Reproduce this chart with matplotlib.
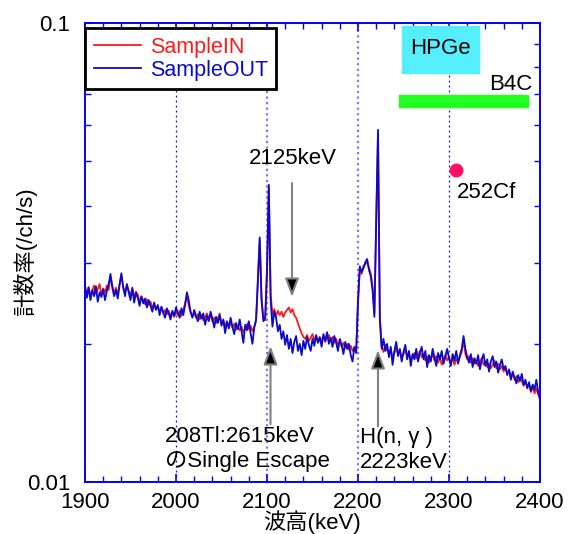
import numpy as np
import matplotlib
matplotlib.use("Agg")
from matplotlib import pyplot as plt, patches as pt
from matplotlib.ticker import MultipleLocator, LogLocator, NullFormatter, FixedLocator, FixedFormatter

plt.rcParams['font.family'] = ['Liberation Sans', 'Noto Sans CJK JP', 'DejaVu Sans']

# channel energies (keV), 2 keV bins
energy = np.arange(1900, 2401, 2)

# count rate (/ch/s), one row = 20 keV
sample_out = [
    0.0269, 0.0252, 0.0265, 0.0249, 0.0262, 0.0254, 0.0267, 0.0247, 0.0259, 0.0253,
    0.0263, 0.0249, 0.0261, 0.0270, 0.0284, 0.0265, 0.0254, 0.0262, 0.0251, 0.0269,
    0.0285, 0.0265, 0.0254, 0.0270, 0.0259, 0.0249, 0.0265, 0.0246, 0.0258, 0.0252,
    0.0242, 0.0254, 0.0245, 0.0251, 0.0240, 0.0249, 0.0242, 0.0235, 0.0246, 0.0237,
    0.0243, 0.0231, 0.0241, 0.0234, 0.0228, 0.0239, 0.0233, 0.0226, 0.0236, 0.0230,
    0.0240, 0.0234, 0.0228, 0.0239, 0.0231, 0.0243, 0.0259, 0.0249, 0.0235, 0.0228,
    0.0237, 0.0230, 0.0224, 0.0235, 0.0227, 0.0233, 0.0220, 0.0230, 0.0224, 0.0235,
    0.0227, 0.0217, 0.0229, 0.0222, 0.0231, 0.0219, 0.0226, 0.0211, 0.0224, 0.0216,
    0.0228, 0.0218, 0.0210, 0.0222, 0.0215, 0.0226, 0.0213, 0.0201, 0.0220, 0.0214,
    0.0224, 0.0211, 0.0200, 0.0217, 0.0226, 0.0276, 0.0341, 0.0249, 0.0224, 0.0228,
    0.0290, 0.0444, 0.0249, 0.0218, 0.0235, 0.0228, 0.0213, 0.0220, 0.0205, 0.0213,
    0.0199, 0.0209, 0.0195, 0.0205, 0.0191, 0.0202, 0.0208, 0.0193, 0.0200, 0.0189,
    0.0203, 0.0195, 0.0207, 0.0199, 0.0193, 0.0205, 0.0198, 0.0209, 0.0201, 0.0207,
    0.0197, 0.0210, 0.0203, 0.0212, 0.0200, 0.0206, 0.0197, 0.0208, 0.0201, 0.0193,
    0.0205, 0.0199, 0.0190, 0.0202, 0.0195, 0.0200, 0.0189, 0.0183, 0.0197, 0.0191,
    0.0249, 0.0295, 0.0287, 0.0292, 0.0301, 0.0306, 0.0290, 0.0281, 0.0262, 0.0229,
    0.0372, 0.0585, 0.0226, 0.0195, 0.0205, 0.0193, 0.0200, 0.0187, 0.0197, 0.0180,
    0.0193, 0.0202, 0.0188, 0.0195, 0.0183, 0.0192, 0.0199, 0.0185, 0.0193, 0.0179,
    0.0190, 0.0185, 0.0195, 0.0183, 0.0191, 0.0197, 0.0185, 0.0193, 0.0178, 0.0189,
    0.0183, 0.0195, 0.0187, 0.0179, 0.0191, 0.0185, 0.0193, 0.0181, 0.0188, 0.0195,
    0.0186, 0.0179, 0.0190, 0.0184, 0.0193, 0.0181, 0.0189, 0.0195, 0.0208, 0.0195,
    0.0187, 0.0182, 0.0190, 0.0178, 0.0186, 0.0181, 0.0189, 0.0176, 0.0185, 0.0190,
    0.0179, 0.0185, 0.0174, 0.0183, 0.0188, 0.0178, 0.0183, 0.0173, 0.0180, 0.0185,
    0.0176, 0.0179, 0.0171, 0.0176, 0.0167, 0.0174, 0.0169, 0.0164, 0.0171, 0.0166,
    0.0172, 0.0163, 0.0167, 0.0160, 0.0165, 0.0158, 0.0163, 0.0159, 0.0167, 0.0157,
    0.0153,
]

sample_in = [
    0.0262, 0.0258, 0.0266, 0.0255, 0.0261, 0.0268, 0.0257, 0.0263, 0.0270, 0.0256,
    0.0264, 0.0259, 0.0268, 0.0262, 0.0280, 0.0268, 0.0258, 0.0265, 0.0256, 0.0270,
    0.0282, 0.0266, 0.0259, 0.0268, 0.0261, 0.0255, 0.0264, 0.0252, 0.0260, 0.0256,
    0.0247, 0.0253, 0.0249, 0.0244, 0.0250, 0.0243, 0.0247, 0.0240, 0.0244, 0.0238,
    0.0241, 0.0236, 0.0240, 0.0233, 0.0237, 0.0232, 0.0236, 0.0230, 0.0234, 0.0229,
    0.0235, 0.0231, 0.0236, 0.0230, 0.0237, 0.0245, 0.0255, 0.0242, 0.0234, 0.0230,
    0.0233, 0.0228, 0.0232, 0.0226, 0.0231, 0.0225, 0.0229, 0.0233, 0.0227, 0.0230,
    0.0224, 0.0228, 0.0222, 0.0227, 0.0233, 0.0221, 0.0225, 0.0219, 0.0223, 0.0218,
    0.0222, 0.0217, 0.0221, 0.0215, 0.0219, 0.0214, 0.0218, 0.0212, 0.0216, 0.0221,
    0.0215, 0.0219, 0.0213, 0.0218, 0.0224, 0.0272, 0.0336, 0.0252, 0.0228, 0.0225,
    0.0285, 0.0438, 0.0256, 0.0232, 0.0238, 0.0230, 0.0236, 0.0231, 0.0235, 0.0229,
    0.0234, 0.0237, 0.0240, 0.0234, 0.0238, 0.0231, 0.0228, 0.0222, 0.0216, 0.0211,
    0.0207, 0.0205, 0.0209, 0.0203, 0.0206, 0.0210, 0.0204, 0.0208, 0.0202, 0.0206,
    0.0203, 0.0208, 0.0202, 0.0206, 0.0209, 0.0203, 0.0207, 0.0201, 0.0205, 0.0199,
    0.0203, 0.0197, 0.0201, 0.0196, 0.0200, 0.0194, 0.0198, 0.0193, 0.0196, 0.0194,
    0.0245, 0.0290, 0.0284, 0.0296, 0.0298, 0.0303, 0.0293, 0.0285, 0.0267, 0.0233,
    0.0365, 0.0575, 0.0230, 0.0198, 0.0192, 0.0199, 0.0194, 0.0190, 0.0194, 0.0187,
    0.0191, 0.0196, 0.0190, 0.0193, 0.0187, 0.0190, 0.0194, 0.0188, 0.0191, 0.0185,
    0.0188, 0.0191, 0.0186, 0.0189, 0.0193, 0.0187, 0.0190, 0.0184, 0.0188, 0.0182,
    0.0186, 0.0190, 0.0184, 0.0188, 0.0182, 0.0187, 0.0180, 0.0185, 0.0189, 0.0184,
    0.0187, 0.0182, 0.0186, 0.0180, 0.0185, 0.0183, 0.0187, 0.0192, 0.0204, 0.0190,
    0.0185, 0.0188, 0.0182, 0.0186, 0.0181, 0.0184, 0.0179, 0.0183, 0.0186, 0.0180,
    0.0183, 0.0178, 0.0181, 0.0177, 0.0180, 0.0184, 0.0177, 0.0181, 0.0176, 0.0179,
    0.0174, 0.0177, 0.0172, 0.0175, 0.0169, 0.0172, 0.0167, 0.0170, 0.0165, 0.0168,
    0.0166, 0.0162, 0.0165, 0.0161, 0.0163, 0.0157, 0.0161, 0.0156, 0.0160, 0.0155,
    0.0151,
]

x_ticks = [1900, 2000, 2100, 2200, 2300, 2400]
y_ticks = [0.01, 0.1]
y_tick_labels = ['0.01', '0.1']
grid_dark = [2000, 2300]
grid_light = [2100, 2200]

fig = plt.figure(figsize=(5.71, 5.34), dpi=100)
ax = fig.add_axes([85 / 571, 52 / 534, 455 / 571, 459 / 534])

ax.plot(energy, sample_in, color='#ff1a1a', lw=1.3, label='SampleIN')
ax.plot(energy, sample_out, color='#0a0acc', lw=1.3, label='SampleOUT')

for g in grid_dark:
    ax.axvline(g, color='#1010cc', lw=0.9, ls=(0, (1.5, 2.5)), zorder=0)
for g in grid_light:
    ax.axvline(g, color='#7a7aff', lw=1.6, ls=(0, (1, 1.5)), zorder=0)

ax.set_yscale('log')
ax.set_xlim(1900, 2400)
ax.set_ylim(0.01, 0.1)
ax.xaxis.set_major_locator(FixedLocator(x_ticks))
ax.xaxis.set_minor_locator(MultipleLocator(20))
ax.yaxis.set_major_locator(FixedLocator(y_ticks))
ax.yaxis.set_major_formatter(FixedFormatter(y_tick_labels))
ax.yaxis.set_minor_locator(LogLocator(base=10, subs=np.arange(2, 10)))
ax.yaxis.set_minor_formatter(NullFormatter())

for s in ax.spines.values():
    s.set_color('#0000ff')
    s.set_linewidth(1.4)
ax.tick_params(which='both', direction='in', top=True, right=True, color='#0000ff',
               labelcolor='black', labelsize=16)
ax.tick_params(which='major', length=6, width=1.2)
ax.tick_params(which='minor', length=4, width=1.0)
ax.tick_params(axis='x', pad=7)
ax.tick_params(axis='y', pad=10.5)
for lab in ax.get_yticklabels():
    lab.set_va('center_baseline')

fig.text(25 / 571, 1 - 252 / 534, '計数率(/ch/s)', rotation=90, ha='center', va='center', fontsize=16)
fig.text(312 / 571, 1 - 522 / 534, '波高(keV)', ha='center', va='center', fontsize=16)

leg = ax.legend(loc='upper left', bbox_to_anchor=(0.0, 0.989), borderaxespad=0, fontsize=15.5,
                fancybox=False, framealpha=1, edgecolor='black', handlelength=2.2,
                handletextpad=0.4, labelspacing=0.1, borderpad=0.4)
leg.get_frame().set_linewidth(2)
for txt, col in zip(leg.get_texts(), ['#ff1a1a', '#0a0acc']):
    txt.set_color(col)


def fx(px):
    return (px - 85) / 455


def fy(py):
    return (482 - py) / 459


tr = ax.transAxes
ax.add_patch(pt.Rectangle((fx(402), fy(73)), fx(479) - fx(402), fy(26) - fy(73),
                          transform=tr, color='#55eefc', zorder=3, clip_on=False))
ax.text(fx(440.5), fy(49), 'HPGe', transform=tr, ha='center', va='center', fontsize=16, zorder=4)
ax.add_patch(pt.Rectangle((fx(399), fy(107)), fx(528) - fx(399), fy(95) - fy(107),
                          transform=tr, color='#22ff22', zorder=3))
ax.text(fx(532), fy(85), 'B4C', transform=tr, ha='right', va='center', fontsize=16)
ax.plot([fx(456)], [fy(170)], 'o', transform=tr, color='#ff1060', markersize=9)
ax.text(fx(457), fy(193), '252Cf', transform=tr, ha='left', va='center', fontsize=16)

ax.text(fx(249), fy(158), '2125keV', transform=tr, ha='left', va='center', fontsize=16)
arrow = dict(arrowstyle='-|>,head_length=0.8,head_width=0.3', edgecolor='#808080',
             facecolor='black', lw=1.5, shrinkA=0, shrinkB=0, mutation_scale=14)
ax.annotate('', xy=(fx(292), fy(297)), xytext=(fx(292), fy(183)), xycoords=tr, textcoords=tr,
            arrowprops=arrow)
ax.annotate('', xy=(fx(270.5), fy(346)), xytext=(fx(270.5), fy(424)), xycoords=tr, textcoords=tr,
            arrowprops=arrow)
ax.annotate('', xy=(fx(378), fy(350)), xytext=(fx(378), fy(426)), xycoords=tr, textcoords=tr,
            arrowprops=arrow)

ax.text(fx(165), fy(437), '208Tl:2615keV', transform=tr, ha='left', va='center', fontsize=16)
ax.text(fx(165), fy(462), 'のSingle Escape', transform=tr, ha='left', va='center', fontsize=16)
ax.text(fx(360), fy(437), 'H(n, γ )', transform=tr, ha='left', va='center', fontsize=16)
ax.text(fx(360), fy(462), '2223keV', transform=tr, ha='left', va='center', fontsize=16)

fig.savefig('out.png', dpi=100)
